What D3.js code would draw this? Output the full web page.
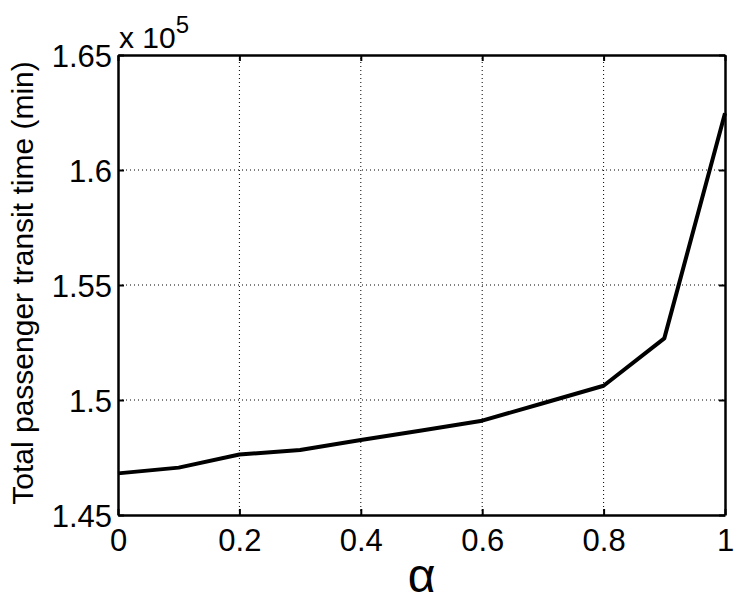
<!DOCTYPE html>
<html>
<head>
<meta charset="utf-8">
<script src="https://cdn.jsdelivr.net/npm/d3@7"></script>
<style>
  body { margin: 0; background: #fff; }
  svg { display: block; }
  text { font-family: "Liberation Sans", Arial, sans-serif; fill: #000; }
</style>
</head>
<body>
<svg id="chart" width="739" height="607"></svg>
<script>
// alpha values and total passenger transit time (x 10^5 min)
const alphas = [0, 0.1, 0.2, 0.3, 0.4, 0.5, 0.6, 0.7, 0.8, 0.9, 1.0];
const transitTime = [1.4681, 1.4706, 1.4763, 1.4783, 1.4826, 1.4867, 1.4910, 1.4986, 1.5062, 1.5268, 1.6247];
const xTicks = [0, 0.2, 0.4, 0.6, 0.8, 1];
const yTicks = [1.45, 1.5, 1.55, 1.6, 1.65];

const svg = d3.select('#chart');
const width = 739;
const height = 607;
const margin = { top: 55, right: 14, bottom: 92, left: 118 };

const x = d3.scaleLinear()
  .domain([0, 1])
  .range([margin.left, width - margin.right]);

const y = d3.scaleLinear()
  .domain([1.45, 1.65])
  .range([height - margin.bottom, margin.top]);

const fmt = d => String(+d.toFixed(2));

// grid
svg.append('g')
  .selectAll('line')
  .data(xTicks.slice(1, -1))
  .join('line')
    .attr('x1', d => x(d)).attr('x2', d => x(d))
    .attr('y1', y(1.45)).attr('y2', y(1.65))
    .attr('stroke', '#000')
    .attr('stroke-width', 1)
    .attr('stroke-dasharray', '1,3');

svg.append('g')
  .selectAll('line')
  .data(yTicks.slice(1, -1))
  .join('line')
    .attr('y1', d => y(d)).attr('y2', d => y(d))
    .attr('x1', x(0)).attr('x2', x(1))
    .attr('stroke', '#000')
    .attr('stroke-width', 1)
    .attr('stroke-dasharray', '1,3');

// axes with inward ticks
const tickLen = 6;
const axBottom = svg.append('g')
  .attr('transform', `translate(0,${y(1.45)})`)
  .call(d3.axisBottom(x).tickValues(xTicks).tickFormat(fmt).tickSizeInner(-tickLen).tickSizeOuter(0).tickPadding(14));
const axLeft = svg.append('g')
  .attr('transform', `translate(${x(0)},0)`)
  .call(d3.axisLeft(y).tickValues(yTicks).tickFormat(fmt).tickSizeInner(-tickLen).tickSizeOuter(0).tickPadding(6));
const axTop = svg.append('g')
  .attr('transform', `translate(0,${y(1.65)})`)
  .call(d3.axisTop(x).tickValues(xTicks).tickFormat('').tickSizeInner(-tickLen).tickSizeOuter(0));
const axRight = svg.append('g')
  .attr('transform', `translate(${x(1)},0)`)
  .call(d3.axisRight(y).tickValues(yTicks).tickFormat('').tickSizeInner(-tickLen).tickSizeOuter(0));

[axBottom, axLeft, axTop, axRight].forEach(g => {
  g.select('.domain').attr('stroke', '#000').attr('stroke-width', 2.5);
  g.selectAll('.tick line').attr('stroke', '#000').attr('stroke-width', 2);
  g.selectAll('.tick text').attr('font-size', 31).attr('font-family', '"Liberation Sans", Arial, sans-serif').attr('fill', '#000');
});
axLeft.selectAll('.tick text').attr('dy', '0.36em');

// data line
const line = d3.line()
  .x((d, i) => x(alphas[i]))
  .y(d => y(d));

svg.append('path')
  .datum(transitTime)
  .attr('fill', 'none')
  .attr('stroke', '#000')
  .attr('stroke-width', 4)
  .attr('stroke-linejoin', 'round')
  .attr('d', line);

// exponent label
const expLabel = svg.append('text')
  .attr('x', x(0) + 1)
  .attr('y', 48)
  .attr('font-size', 30);
expLabel.append('tspan').text('x 10');
expLabel.append('tspan').attr('font-size', 24).attr('dy', -15).text('5');

// axis titles
svg.append('text')
  .attr('x', (x(0) + x(1)) / 2)
  .attr('y', 592)
  .attr('text-anchor', 'middle')
  .attr('font-family', '"Liberation Serif", "Times New Roman", serif')
  .attr('font-size', 48)
  .text('α');

svg.append('text')
  .attr('transform', `translate(33,${(y(1.45) + y(1.65)) / 2 - 2}) rotate(-90)`)
  .attr('text-anchor', 'middle')
  .attr('font-size', 30)
  .text('Total passenger transit time (min)');
</script>
</body>
</html>
